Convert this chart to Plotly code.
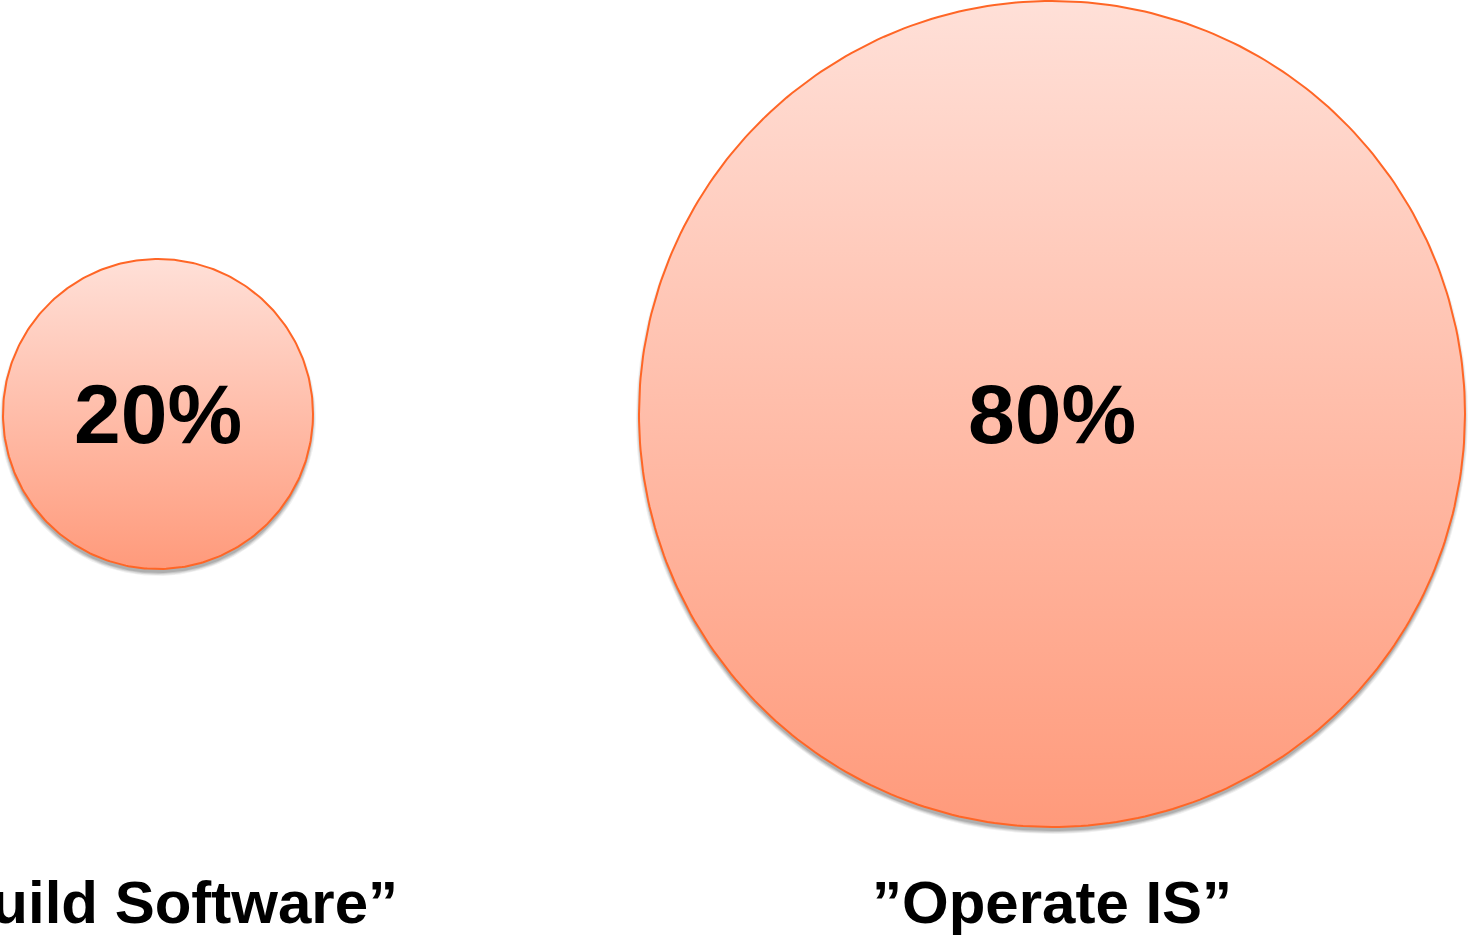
import numpy as np
import plotly.graph_objects as go

# Data
categories = ["\u201dBuild Software\u201d", "\u201dOperate IS\u201d"]
shares = [20, 80]

# Layout (pixel-based canvas)
W, H = 1468, 935
centers_x = [158, 1052]
center_y = 414
radii = [155, 413]
label_y = 902

TOP_COLOR = "#FFE0D8"
BOTTOM_COLOR = "#FF9A7B"
EDGE_COLOR = "#FF6626"


def circle(cx, cy, r, n=361):
    t = np.linspace(0, 2 * np.pi, n)
    return cx + r * np.cos(t), (H - cy) + r * np.sin(t)


fig = go.Figure()

for cat, val, cx, r in zip(categories, shares, centers_x, radii):
    # soft drop shadow
    for dr, op in [(3, 0.06), (2, 0.08), (1, 0.10), (0, 0.12)]:
        xs, ys = circle(cx, center_y + 4, r + dr)
        fig.add_trace(go.Scatter(
            x=xs, y=ys, mode="lines", fill="toself",
            fillcolor=f"rgba(0,0,0,{op})", line=dict(width=0),
            hoverinfo="skip", showlegend=False))
    xs, ys = circle(cx, center_y, r)
    fig.add_trace(go.Scatter(
        x=xs, y=ys, mode="lines", fill="toself",
        fillcolor="white",
        fillgradient=dict(type="vertical",
                          colorscale=[[0, BOTTOM_COLOR], [1, TOP_COLOR]]),
        line=dict(color=EDGE_COLOR, width=2),
        name=cat, hoverinfo="skip", showlegend=False))
    fig.add_annotation(x=cx, y=H - center_y, xref="x", yref="y",
                       text=f"<b>{val}%</b>", showarrow=False,
                       font=dict(family="Liberation Sans, Arial", size=84, color="black"))
    fig.add_annotation(x=cx, y=H - label_y, xref="x", yref="y",
                       text=f"<b>{cat}</b>", showarrow=False,
                       font=dict(family="Liberation Sans, Arial", size=60, color="black"))

fig.update_layout(
    width=W, height=H,
    margin=dict(l=0, r=0, t=0, b=0),
    paper_bgcolor="white", plot_bgcolor="white",
    xaxis=dict(range=[0, W], visible=False, fixedrange=True),
    yaxis=dict(range=[0, H], visible=False, fixedrange=True),
)

fig.write_html(
    "out.html",
    config={"displayModeBar": False},
    post_script="document.body.style.margin='0';document.body.style.overflow='hidden';",
)
